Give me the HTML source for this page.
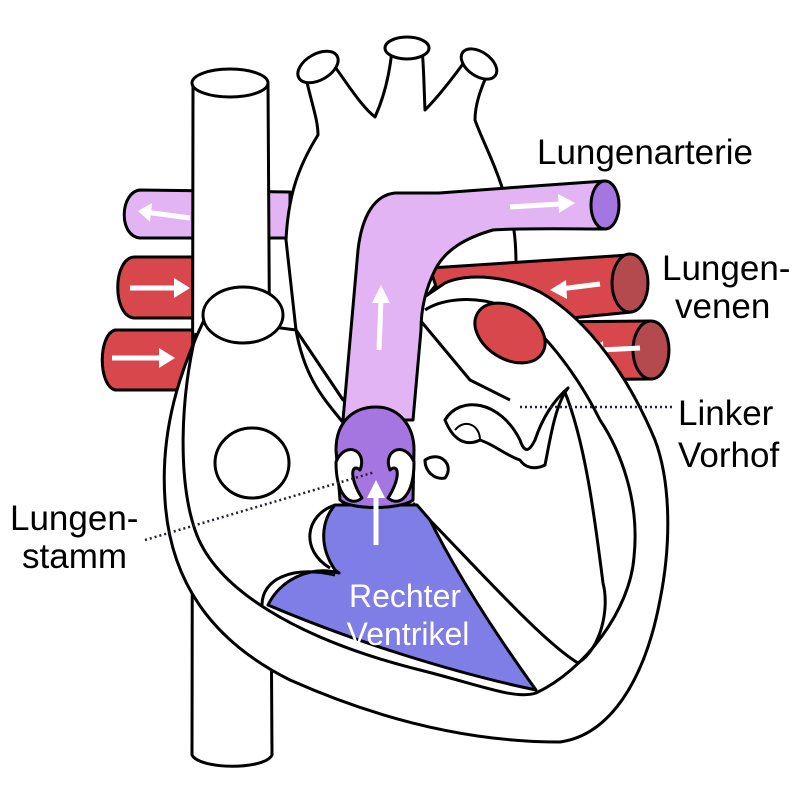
<!DOCTYPE html>
<html><head><meta charset="utf-8"><style>
html,body{margin:0;padding:0;background:#fff;}
svg{display:block;}
text{font-family:"Liberation Sans",sans-serif;}
</style></head><body>
<svg width="800" height="807" viewBox="0 0 800 807" xmlns="http://www.w3.org/2000/svg">
<g stroke="#000" stroke-width="3" stroke-linejoin="round">
<!-- left pulmonary artery -->
<path d="M290,192 L140,190 C120,192 118,236 140,238 L290,238 Z" fill="#e2b4f4"/>
<path d="M190,218 L145,212" stroke="#fff" stroke-width="5"/><path d="M138,211 L152,203 L150,222 Z" fill="#fff" stroke="none"/>
<!-- left red veins -->
<path d="M205,257 L135,257 C112,257 112,318 135,318 L205,318 Z" fill="#d8474c"/>
<path d="M130,288 L178,288" stroke="#fff" stroke-width="5"/><path d="M190,288 L174,278 L174,298 Z" fill="#fff" stroke="none"/>
<path d="M195,330 L115,330 C98,335 98,385 115,390 L185,390 Z" fill="#d8474c"/>
<path d="M112,358 L162,358" stroke="#fff" stroke-width="5"/><path d="M175,358 L159,348 L159,368 Z" fill="#fff" stroke="none"/>
<!-- vena cava -->
<path d="M193,83 L192,755 C200,770 265,770 272,755 L268,83 Z" fill="#fff"/>
<ellipse cx="230" cy="83" rx="38" ry="14" fill="#fff"/>
<!-- aorta -->
<path d="M286,240 C288,200 296,170 318,135 C318,120 312,105 306,78 L330,60 C345,80 360,105 375,117 C385,95 390,70 392,50 L422,48 C424,70 424,90 425,110 C440,95 455,75 468,57 L490,68 C480,90 475,105 475,120 C482,140 496,165 506,200 C514,220 516,240 516,265 L440,280 L343,400 L296,330 Z" fill="#fff"/>
<ellipse cx="318" cy="67" rx="22" ry="13" transform="rotate(-30 318 67)" fill="#fff"/>
<ellipse cx="407" cy="48" rx="22" ry="11" fill="#fff"/>
<ellipse cx="479" cy="64" rx="20" ry="12" transform="rotate(35 479 64)" fill="#fff"/>
<!-- right red veins -->
<path d="M430,268 L629,255 L632,312 L450,330 Z" fill="#d8474c"/>
<ellipse cx="630" cy="283" rx="18" ry="29" fill="#b44a4e"/>
<path d="M600,284 L560,289" stroke="#fff" stroke-width="5"/><path d="M550,290 L566,280 L567,299 Z" fill="#fff" stroke="none"/>
<path d="M540,322 L650,321 L652,379 L560,380 Z" fill="#d8474c"/>
<ellipse cx="651" cy="350" rx="18" ry="29" fill="#b44a4e"/>
<path d="M640,348 L600,350" stroke="#fff" stroke-width="5"/><path d="M588,351 L603,341 L604,360 Z" fill="#fff" stroke="none"/>
<!-- heart body -->
<path d="M205,318 C180,370 160,430 165,500 C170,580 210,640 290,680 C380,720 470,742 560,742 C610,735 645,680 660,600 C672,540 670,480 655,440 C630,380 590,320 540,292 C510,277 470,272 445,283 L420,300 L343,400 L296,330 Z" fill="#fff"/>
<path d="M196,333 C180,400 178,480 195,530 C215,590 300,640 420,670 C480,685 515,700 536,693 C585,670 630,610 634,557 C640,500 620,450 600,420 C580,380 540,320 500,305 C470,295 440,300 425,310" fill="none"/>
<path d="M296,330 C305,380 325,400 345,425" fill="none"/>
<path d="M420,320 L470,380 L510,400" fill="none"/>
<ellipse cx="510" cy="333" rx="38" ry="26" transform="rotate(32 510 333)" fill="#d8474c"/>
<!-- LV chamber -->
<path d="M413,503 C470,560 540,640 578,663 C600,650 610,610 603,583 C595,520 585,440 564,390" fill="none"/>
<!-- mitral valve -->
<path d="M445,420 C460,395 500,400 520,440 C525,455 530,450 535,440 C545,410 560,395 568,388 C555,405 550,440 545,465 C535,470 525,468 520,460 C505,455 495,445 480,440 C470,445 455,445 445,420 Z" fill="#fff"/>
<path d="M455,430 C465,418 480,425 480,440" fill="none" stroke-width="2"/>
<path d="M425,460 C440,450 455,465 445,478 C435,480 425,472 425,460 Z" fill="#fff"/>
<!-- oval and circle -->
<ellipse cx="243" cy="315" rx="40" ry="28" fill="#fff"/>
<ellipse cx="252" cy="463" rx="37" ry="35" fill="#fff"/>
<!-- right ventricle -->
<path d="M335,505 C322,520 318,545 335,570 L339,573 C310,565 280,580 268,605 C350,640 450,672 536,690 C500,640 460,580 430,520 L417,505 Z" fill="#7e7ee6" stroke="#000"/>
<path d="M335,505 C305,515 300,550 330,568" fill="none"/>
<path d="M262,605 C262,580 290,565 335,575" fill="none"/>
<!-- pulmonary artery -->
<path d="M343,420 L358,250 C362,215 375,195 395,193 L439,193 C480,190 560,184 605,181 L605,229 C570,229 520,228 493,230 C465,238 445,250 435,270 C425,290 421,310 421,330 L413,420 Z" fill="#e2b4f4"/>
<ellipse cx="605" cy="205" rx="14" ry="24" fill="#a676e0"/>
<path d="M510,207 L560,204" stroke="#fff" stroke-width="5"/><path d="M575,203 L558,194 L559,213 Z" fill="#fff" stroke="none"/>
<path d="M379,350 L381,300" stroke="#fff" stroke-width="5"/><path d="M381,285 L372,303 L390,303 Z" fill="#fff" stroke="none"/>
<!-- pulmonary valve -->
<path d="M336,450 C336,420 355,407 376,407 C398,407 414,425 414,450 L413,500 C400,510 350,510 340,500 Z" fill="#a676e0"/>
<path d="M336,462 C345,440 368,450 360,470 C350,462 350,480 362,498 C350,508 336,495 336,462 Z" fill="#fff"/>
<path d="M414,462 C405,440 382,450 390,470 C400,462 400,480 388,498 C400,508 414,495 414,462 Z" fill="#fff"/>
<path d="M376,545 L376,495" stroke="#fff" stroke-width="5" stroke-linejoin="miter"/><path d="M376,480 L367,498 L385,498 Z" fill="#fff" stroke="none"/>
</g>
<!-- dotted leader lines -->
<line x1="520" y1="407" x2="672" y2="407" stroke="#223" stroke-width="2.5" stroke-dasharray="2,3"/>
<line x1="145" y1="540" x2="375" y2="472" stroke="#223" stroke-width="2.5" stroke-dasharray="2,3"/>
<!-- labels -->
<g font-size="35" fill="#000">
<text x="537" y="164">Lungenarterie</text>
<text x="662" y="280">Lungen-</text>
<text x="675" y="318">venen</text>
<text x="678" y="425">Linker</text>
<text x="678" y="467">Vorhof</text>
<text x="10" y="530">Lungen-</text>
<text x="22" y="568">stamm</text>
</g>
<g font-size="32" fill="#fff" text-anchor="middle">
<text x="405" y="607">Rechter</text>
<text x="408" y="645">Ventrikel</text>
</g>
</svg>
</body></html>
